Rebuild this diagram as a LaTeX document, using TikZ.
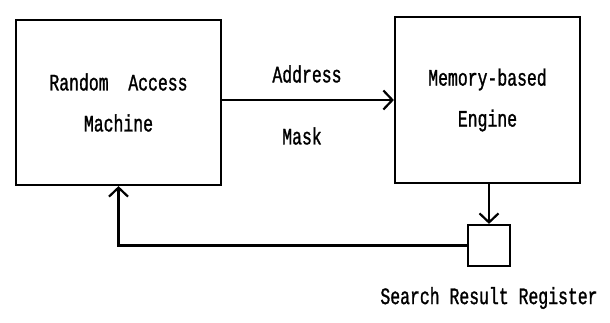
\documentclass[tikz,border=0pt]{standalone}
\usepackage{fontspec}
\newfontfamily\diagfont[FakeStretch=0.7,FakeBold=1.2]{Liberation Mono}
\usetikzlibrary{arrows.meta}
\begin{document}
\begin{tikzpicture}[x=1pt,y=-1pt,
  every node/.style={font=\diagfont\fontsize{23.5}{27}\selectfont},
  boxnode/.style={draw,line width=2.2pt,align=center,inner sep=0pt},
  conn/.style={line width=2.2pt},
  arr/.style={conn,-{Straight Barb[length=9pt,width=19pt,line width=2.2pt]}}]
\useasboundingbox (0,0) rectangle (610,322);
\node[boxnode,minimum width=205pt,minimum height=165pt] (ram) at (118.5,102.5)
  {Random\ \ Access\\[14pt]Machine};
\node[boxnode,minimum width=185pt,minimum height=166pt] (meb) at (487.5,100)
  {Memory-based\\[14pt]Engine};
\node[boxnode,minimum width=42pt,minimum height=41pt] (srr) at (489,245.5) {};
\node (addr) at (307,74) {Address};
\node (mask) at (302,136) {Mask};
\node (srrl) at (489,298) {Search Result Register};
\coordinate (corner) at (ram.south |- srr.west);
\draw[arr] (ram.east |- meb.west) -- (meb.west);
\draw[arr] (meb.south -| srr.north) -- (srr.north);
\draw[arr] (srr.west) -- (corner) -- (ram.south);
\end{tikzpicture}
\end{document}
